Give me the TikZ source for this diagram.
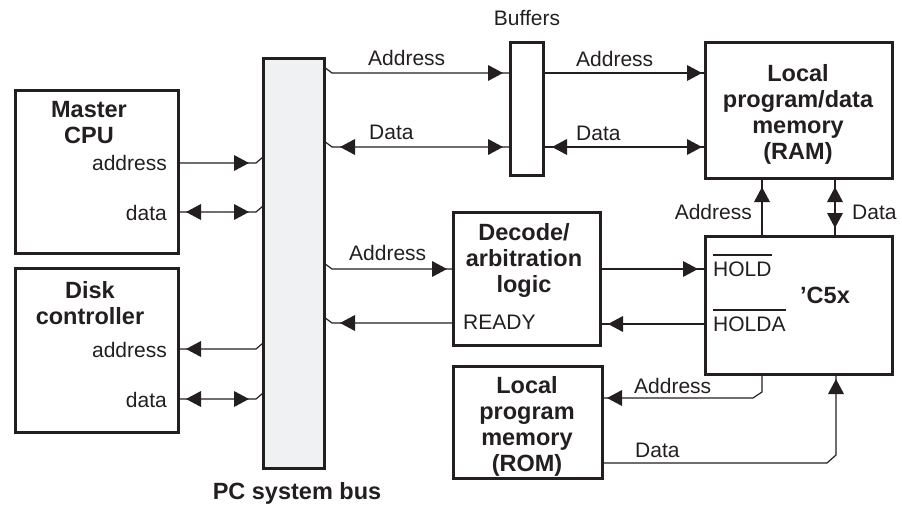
\documentclass[tikz,border=0pt]{standalone}
\usepackage{fontspec}
\setmainfont{Liberation Sans}
\usetikzlibrary{calc}
\definecolor{ink}{HTML}{231F20}
\definecolor{busfill}{HTML}{F0F1F3}
\begin{document}
\begin{tikzpicture}[x=1pt,y=-1pt,
  box/.style={draw=ink, line width=3pt, inner sep=0pt, outer sep=0pt},
  conn/.style={draw=ink, line width=1.2pt},
  lbl/.style={text=ink, inner sep=0pt, font=\fontsize{21}{24}\selectfont},
  ttl/.style={text=ink, inner sep=0pt, align=center, font=\fontsize{23.5}{26}\selectfont\bfseries},
  tipr/.pic={\fill[ink] (0,0) -- (-15,-8) -- (-15,8) -- cycle;},
  tipl/.pic={\fill[ink] (0,0) -- (15,-8) -- (15,8) -- cycle;},
  tipu/.pic={\fill[ink] (0,0) -- (-8,15) -- (8,15) -- cycle;},
  tipd/.pic={\fill[ink] (0,0) -- (-8,-15) -- (8,-15) -- cycle;}
]
\useasboundingbox (0,0) rectangle (902,506);

% boxes
\node[box, minimum width=163pt, minimum height=163pt] (cpu) at (96.5,171.5) {};
\node[box, minimum width=163pt, minimum height=164pt] (disk) at (96.5,350) {};
\node[box, fill=busfill, minimum width=61pt, minimum height=410pt] (bus) at (293.5,263) {};
\node[box, minimum width=33pt, minimum height=133pt] (buf) at (526.5,108.5) {};
\node[box, minimum width=187pt, minimum height=136pt] (ram) at (798.5,110) {};
\node[box, minimum width=147pt, minimum height=133pt] (dec) at (526.5,278.5) {};
\node[box, minimum width=187pt, minimum height=138pt] (c5x) at (798.5,305) {};
\node[box, minimum width=149pt, minimum height=112pt] (rom) at (527.5,422) {};

% titles
\node[ttl] (cput) at (89,123) {Master\\CPU};
\node[ttl] (diskt) at (90,303) {Disk\\controller};
\node[ttl] (ramt) at (798,114) {Local\\program/data\\memory\\(RAM)};
\node[ttl] (dect) at (524,260) {Decode/\\arbitration\\logic};
\node[ttl] (c5xt) at (825,295) {'C5x};
\node[ttl] (romt) at (527,426) {Local\\program\\memory\\(ROM)};
\node[ttl] (bust) at (297,493) {PC system bus};
\node[lbl] (buft) at (527,18) {Buffers};

% small labels
\node[lbl, anchor=east] (cpua) at (167,163) {address};
\node[lbl, anchor=east] (cpud) at (167,213) {data};
\node[lbl, anchor=east] (diska) at (167,350) {address};
\node[lbl, anchor=east] (diskd) at (167,400) {data};
\node[lbl, anchor=west] (l1) at (368,58) {Address};
\node[lbl, anchor=west] (l2) at (369,132) {Data};
\node[lbl, anchor=west] (l3) at (576,59) {Address};
\node[lbl, anchor=west] (l4) at (576,133) {Data};
\node[lbl, anchor=west] (l5) at (349,253) {Address};
\node[lbl, anchor=west] (ready) at (463,322) {READY};
\node[lbl, anchor=east] (l6) at (752,212) {Address};
\node[lbl, anchor=west] (l7) at (852,212) {Data};
\node[lbl, anchor=west] (l8) at (634,386) {Address};
\node[lbl, anchor=west] (l9) at (635,450) {Data};
\node[lbl, anchor=west] (hold) at (713,269) {HOLD};
\node[lbl, anchor=west] (holda) at (713,324) {HOLDA};
\draw[ink, line width=2pt] ([yshift=6pt]hold.north west) -- ([yshift=6pt]hold.north east);
\draw[ink, line width=2pt] ([yshift=6pt]holda.north west) -- ([yshift=6pt]holda.north east);

% connectors: left side
\draw[conn] (cpu.east |- 0,163) -- (256,163) -- (bus.west |- 0,157);
\pic at (249,163) {tipr};
\draw[conn] (cpu.east |- 0,212) -- (256,212) -- (bus.west |- 0,206);
\pic at (186,212) {tipl}; \pic at (249,212) {tipr};
\draw[conn] (disk.east |- 0,349) -- (256,349) -- (bus.west |- 0,343);
\pic at (186,349) {tipl};
\draw[conn] (disk.east |- 0,399) -- (256,399) -- (bus.west |- 0,393);
\pic at (186,399) {tipl}; \pic at (249,399) {tipr};

% bus to buffers
\draw[conn] (bus.east |- 0,67) -- (332,73) -- (buf.west |- 0,73);
\pic at (503,73) {tipr};
\draw[conn] (bus.east |- 0,141) -- (332,147) -- (buf.west |- 0,147);
\pic at (340,147) {tipl}; \pic at (503,147) {tipr};

% buffers to RAM
\draw[conn] (buf.east |- 0,73) -- (ram.west |- 0,73);
\pic at (702,73) {tipr};
\draw[conn] (buf.east |- 0,147) -- (ram.west |- 0,147);
\pic at (552,147) {tipl}; \pic at (702,147) {tipr};

% bus to decode
\draw[conn] (bus.east |- 0,263) -- (332,269) -- (dec.west |- 0,269);
\pic at (447,269) {tipr};
\draw[conn] (dec.west |- 0,323) -- (332,323) -- (bus.east |- 0,317);
\pic at (340,323) {tipl};

% decode and C5x
\draw[conn] (dec.east |- 0,269) -- (c5x.west |- 0,269);
\pic at (698,269) {tipr};
\draw[conn] (c5x.west |- 0,324) -- (dec.east |- 0,324);
\pic at (608,324) {tipl};

% C5x and RAM
\draw[conn] (c5x.north -| 762,0) -- (ram.south -| 762,0);
\pic at (762,187) {tipu};
\draw[conn] (c5x.north -| 835,0) -- (ram.south -| 835,0);
\pic at (835,187) {tipu}; \pic at (835,228) {tipd};

% C5x and ROM
\draw[conn] (c5x.south -| 762,0) -- (762,392) -- (753,398) -- (rom.east |- 0,398);
\pic at (607,398) {tipl};
\draw[conn] (rom.east |- 0,463) -- (827,463) -- (836,455) -- (c5x.south -| 836,0);
\pic at (836,379) {tipu};
\end{tikzpicture}
\end{document}
